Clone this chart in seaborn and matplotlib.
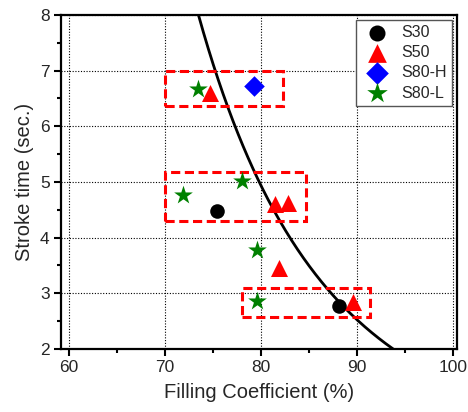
import numpy as np
import pandas as pd
import matplotlib
matplotlib.use("Agg")
import matplotlib.pyplot as plt
from matplotlib.patches import Rectangle
from matplotlib.ticker import MultipleLocator
import seaborn as sns

# ---- data ----
s30_x = [75.4, 88.1]
s30_y = [4.47, 2.78]
s50_x = [74.7, 81.5, 82.8, 81.9, 89.6]
s50_y = [6.59, 4.61, 4.62, 3.46, 2.85]
s80h_x = [79.3]
s80h_y = [6.72]
s80l_x = [73.5, 71.9, 78.0, 79.6, 79.6]
s80l_y = [6.67, 4.77, 5.02, 3.78, 2.87]

# trend curve (power law y = a * x^-n) parameters
curve_x_start = 73.5
curve_y_start = 8.0
curve_exp = 5.7
curve_x_end = 94.0

# dashed red boxes (x0, y0, x1, y1)
boxes = [(70.0, 6.36, 82.3, 7.0),
         (70.0, 4.29, 84.7, 5.17),
         (78.0, 2.58, 91.3, 3.09)]

sns.set_theme(style="white")
plt.rcParams['font.family'] = ['Liberation Sans', 'DejaVu Sans']

fig = plt.figure(figsize=(4.68, 4.12), dpi=100)
ax = fig.add_axes([0.130, 0.153, 0.847, 0.811])

cx = np.linspace(curve_x_start, curve_x_end, 200)
cy = curve_y_start * (curve_x_start / cx) ** curve_exp
sns.lineplot(x=cx, y=cy, ax=ax, color='black', linewidth=2, zorder=2, legend=False)

series = [
    ("S30", s30_x, s30_y, 'o', 'black', 110),
    ("S50", s50_x, s50_y, '^', 'red', 150),
    ("S80-H", s80h_x, s80h_y, 'D', 'blue', 110),
    ("S80-L", s80l_x, s80l_y, '*', 'green', 200),
]
for name, xs, ys, m, c, s in series:
    df = pd.DataFrame({"x": xs, "y": ys})
    sns.scatterplot(data=df, x="x", y="y", ax=ax, marker=m, color=c, s=s,
                    edgecolor=c, linewidth=0, label=name, zorder=4)

for (x0, y0, x1, y1) in boxes:
    ax.add_patch(Rectangle((x0, y0), x1 - x0, y1 - y0, fill=False,
                           edgecolor='red', linestyle=(0, (3, 1.5)),
                           linewidth=2.2, zorder=3))

ax.set_xlim(59.2, 100.4)
ax.set_ylim(2, 8)
ax.xaxis.set_major_locator(MultipleLocator(10))
ax.xaxis.set_minor_locator(MultipleLocator(5))
ax.yaxis.set_major_locator(MultipleLocator(1))
ax.yaxis.set_minor_locator(MultipleLocator(0.5))
ax.tick_params(axis='both', which='major', direction='out', length=5, width=1.5,
               labelsize=12.5, bottom=True, left=True, color='black', pad=3)
ax.tick_params(axis='both', which='minor', direction='out', length=3, width=1.5,
               bottom=True, left=True, color='black')
ax.grid(True, which='major', linestyle=(0, (1, 1.5)), color='black', linewidth=0.8)
for sp in ax.spines.values():
    sp.set_visible(True)
    sp.set_color('black')
    sp.set_linewidth(1.6)

ax.set_xlabel("Filling Coefficient (%)", fontsize=14.5, labelpad=6)
ax.set_ylabel("Stroke time (sec.)", fontsize=14.5, labelpad=4)

leg = ax.legend(loc='upper right', fontsize=11.5, frameon=True, fancybox=False,
                edgecolor='#555555', framealpha=1, borderpad=0.35,
                handletextpad=0.5, labelspacing=0.32, borderaxespad=0.3,
                markerscale=1.1)
leg.get_frame().set_linewidth(1.0)

fig.savefig("out.png", dpi=100)
